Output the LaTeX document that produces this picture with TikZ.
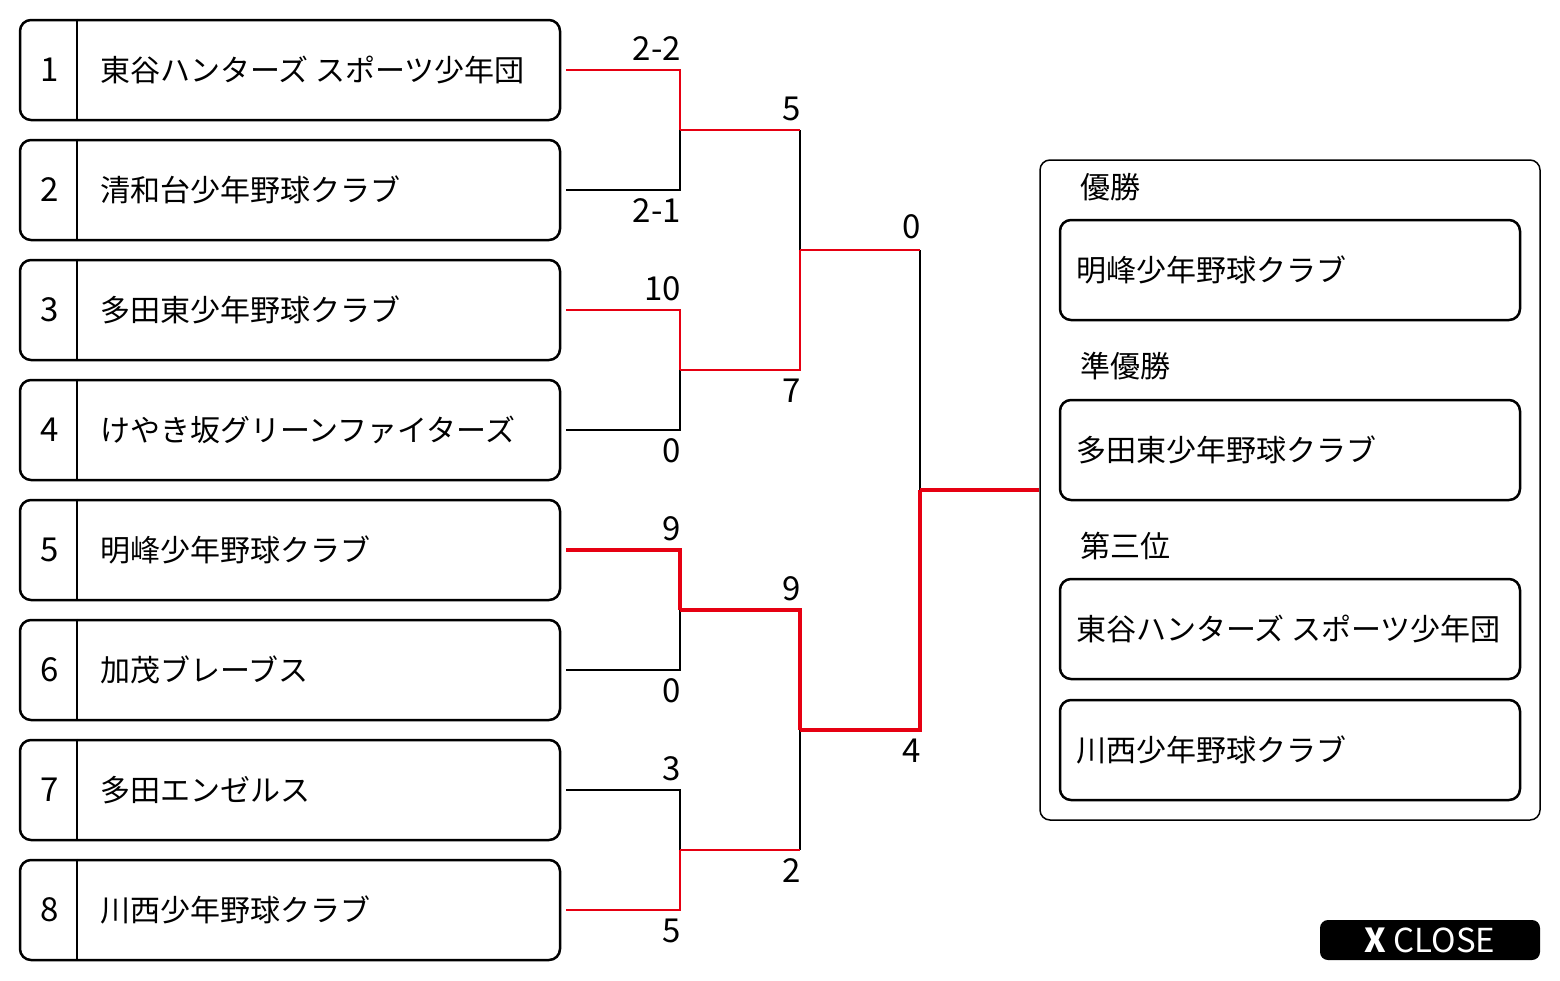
\documentclass[tikz,border=0pt]{standalone}
\usepackage{fontspec}
\setmainfont{Noto Sans CJK JP}
\definecolor{win}{HTML}{E60012}
\tikzset{
  team/.style={draw, line width=2.5pt, rounded corners=11pt, minimum width=540pt, minimum height=100pt, inner sep=0pt},
  resbox/.style={draw, line width=2.5pt, rounded corners=11pt, minimum width=460pt, minimum height=100pt, inner sep=0pt},
  lbl/.style={font=\fontsize{30pt}{36pt}\selectfont, inner sep=0pt},
  numl/.style={font=\fontsize{33pt}{38pt}\selectfont, inner sep=0pt},
  score/.style={font=\fontsize{33pt}{38pt}\selectfont, inner sep=0pt, anchor=base east},
  lose/.style={draw=black, line width=1.5pt},
  winl/.style={draw=win, line width=1.5pt},
  champ/.style={draw=win, line width=3.5pt},
}
\begin{document}
\begin{tikzpicture}[x=1pt,y=-1pt]
\useasboundingbox (0,0) rectangle (1560,980);

% teams
\foreach \i/\y/\name in {1/70/東谷ハンターズ スポーツ少年団, 2/190/清和台少年野球クラブ, 3/310/多田東少年野球クラブ, 4/430/けやき坂グリーンファイターズ, 5/550/明峰少年野球クラブ, 6/670/加茂ブレーブス, 7/790/多田エンゼルス, 8/910/川西少年野球クラブ}{
  \node[team] (t\i) at (290,\y) {};
  \draw[line width=2.5pt] ([xshift=58pt]t\i.north west) -- ([xshift=58pt]t\i.south west);
  \node[numl] (n\i) at (50,\y) {\i};
  \node[lbl, anchor=west] (m\i) at (100,\y) {\name};
}

% junctions
\coordinate (J1) at (680,130);
\coordinate (J2) at (680,370);
\coordinate (J3) at (680,610);
\coordinate (J4) at (680,850);
\coordinate (K1) at (800,250);
\coordinate (K2) at (800,730);
\coordinate (F) at (920,490);

% result panel
\node[draw, line width=1.5pt, rounded corners=10pt, minimum width=500pt, minimum height=660pt, inner sep=0pt] (P) at (1290,490) {};

% losing lines first
\draw[lose] ([xshift=5pt]t2.east) -| (J1);
\draw[lose] ([xshift=5pt]t4.east) -| (J2);
\draw[lose] ([xshift=5pt]t6.east) -| (J3);
\draw[lose] ([xshift=5pt]t7.east) -| (J4);
\draw[lose] (J1 -| K1) -- (K1);
\draw[lose] (J4 -| K2) -- (K2);
\draw[lose] (K1 -| F) -- (F);

% winning lines
\draw[winl] ([xshift=5pt]t1.east) -| (J1);
\draw[winl] ([xshift=5pt]t3.east) -| (J2);
\draw[winl] ([xshift=5pt]t8.east) -| (J4);
\draw[winl] (J1) -- (J1 -| K1);
\draw[winl] (J2) -| (K1);
\draw[winl] (J4) -- (J4 -| K2);
\draw[winl] (K1) -- (K1 -| F);
\draw[champ] ([xshift=5pt]t5.east) -| (J3);
\draw[champ] (J3) -| (K2);
\draw[champ] (K2) -| (F);
\draw[champ] (F) -- (P.west);

% scores
\node[score] (s1) at (681,60) {2-2};
\node[score] (s2) at (681,222) {2-1};
\node[score] (s3) at (681,300) {10};
\node[score] (s4) at (681,462) {0};
\node[score] (s5) at (681,540) {9};
\node[score] (s6) at (681,702) {0};
\node[score] (s7) at (681,780) {3};
\node[score] (s8) at (681,942) {5};
\node[score] (s9) at (801,120) {5};
\node[score] (s10) at (801,402) {7};
\node[score] (s11) at (801,600) {9};
\node[score] (s12) at (801,882) {2};
\node[score] (s13) at (921,238) {0};
\node[score] (s14) at (921,762) {4};

% results
\node[lbl, anchor=west] (h1) at (1080,187) {優勝};
\node[lbl, anchor=west] (h2) at (1080,366) {準優勝};
\node[lbl, anchor=west] (h3) at (1080,546) {第三位};
\node[resbox] (r1) at (1290,270) {};
\node[resbox] (r2) at (1290,450) {};
\node[resbox] (r3) at (1290,629) {};
\node[resbox] (r4) at (1290,750) {};
\node[lbl, anchor=west] (rt1) at (1076,270) {明峰少年野球クラブ};
\node[lbl, anchor=west] (rt2) at (1076,450) {多田東少年野球クラブ};
\node[lbl, anchor=west] (rt3) at (1076,629) {東谷ハンターズ スポーツ少年団};
\node[lbl, anchor=west] (rt4) at (1076,750) {川西少年野球クラブ};

% close button
\node[fill=black, rounded corners=8pt, minimum width=220pt, minimum height=40pt, inner sep=0pt, text=white, font=\fontsize{33pt}{36pt}\selectfont] (close) at (1430,940) {\textbf{X} CLOSE};
\end{tikzpicture}
\end{document}
